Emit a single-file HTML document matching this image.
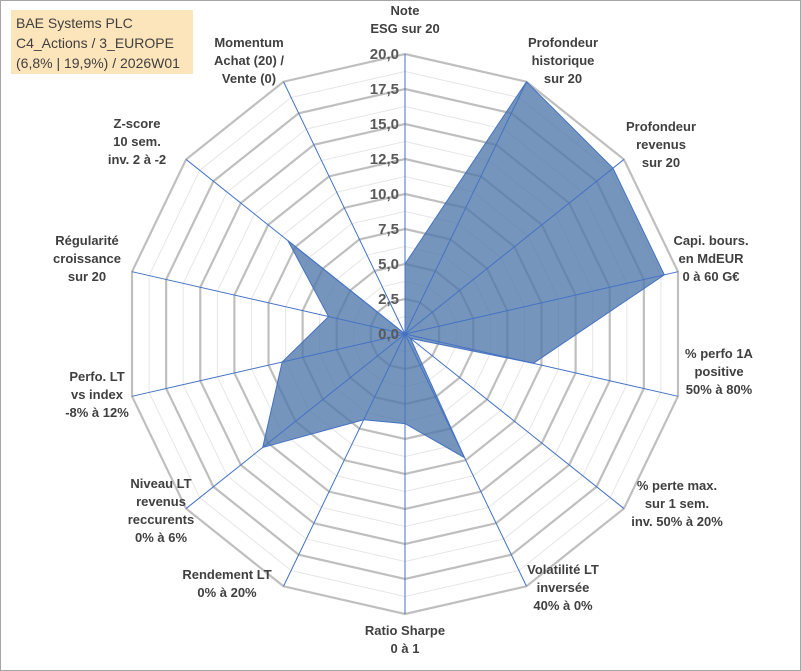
<!DOCTYPE html>
<html><head><meta charset="utf-8">
<style>
body{margin:0;background:#fff;font-family:"Liberation Sans",sans-serif;}
#wrap{position:relative;width:801px;height:671px;box-sizing:border-box;border:1px solid #a6a6a6;overflow:hidden;}
#info{position:absolute;left:10px;top:9px;width:182px;height:64px;background:#fce4bb;color:#404040;font-size:14px;line-height:20px;padding:3px 0 0 5px;box-sizing:border-box;}
svg{position:absolute;left:0;top:0;}
</style></head><body>
<div id="wrap">
<svg id="chart" width="801" height="671"></svg>
<div id="info">BAE Systems PLC<br>C4_Actions / 3_EUROPE<br>(6,8% | 19,9%) / 2026W01</div>
</div>
<script>
const categories=[["Note","ESG sur 20"],["Profondeur","historique","sur 20"],["Profondeur","revenus","sur 20"],["Capi. bours.","en MdEUR","0 à 60 G€"],["% perfo 1A","positive","50% à 80%"],["% perte max.","sur 1 sem.","inv. 50% à 20%"],["Volatilité LT","inversée","40% à 0%"],["Ratio Sharpe","0 à 1"],["Rendement LT","0% à 20%"],["Niveau LT","revenus","reccurents","0% à 6%"],["Perfo. LT","vs index","-8% à 12%"],["Régularité","croissance","sur 20"],["Z-score","10 sem.","inv. 2 à -2"],["Momentum","Achat (20) /","Vente (0)"]];
const values=[5.0,20,19,19,9.4,0.5,9.8,6.4,6.8,13,9,5.6,10.7,0];
const ticks=["0,0","2,5","5,0","7,5","10,0","12,5","15,0","17,5","20,0"];
const labelPos=[[404,14],[562,46],[660,130],[710,244],[718,357],[676,489],[562,573],[404,634],[226,578],[160,487],[96,380],[86,244],[136,127],[248,46]];
const svg=document.getElementById('chart');const NS='http://www.w3.org/2000/svg';
const cx=404,cy=333,R=280,maxV=20,N=categories.length;
function ang(i){return i*2*Math.PI/N;}
function pt(i,v){const r=v/maxV*R;return [cx+r*Math.sin(ang(i)),cy-r*Math.cos(ang(i))];}
function mk(t,a){const e=document.createElementNS(NS,t);for(const k in a)e.setAttribute(k,a[k]);svg.appendChild(e);return e;}
// minor rings
for(let k=1;k<=16;k++){const v=k*1.25;const p=[];for(let i=0;i<N;i++)p.push(pt(i,v).join(','));
const e=mk('polygon',{points:p.join(' '),fill:'none',stroke:k%2?'#e6e6e6':'#bfbfbf','stroke-width':k%2?1:2.2});

}
// polygon
const pp=values.map((v,i)=>pt(i,v).join(','));
const poly=mk('polygon',{points:pp.join(' '),fill:'rgba(79,119,170,0.78)',stroke:'#4472c4','stroke-width':1});


// axis lines
for(let i=0;i<N;i++){const p=pt(i,maxV);const l=mk('line',{x1:cx,y1:cy,x2:p[0],y2:p[1],stroke:'#4472c4','stroke-width':1});

}
// ticks
ticks.forEach((t,k)=>{const y=cy-k*2.5/maxV*R;const e=mk('text',{x:cx-6,y:y+5,'text-anchor':'end','font-size':15,'font-weight':'bold',fill:'#595959'});e.textContent=t;

});
// category labels
categories.forEach((lines,i)=>{const [x,y]=labelPos[i];const e=mk('text',{x:x,y:y,'text-anchor':'middle','font-size':13,'font-weight':'bold',fill:'#404040'});


lines.forEach((s,j)=>{const ts=document.createElementNS(NS,'tspan');ts.setAttribute('x',x);ts.setAttribute('dy',j?18:0);ts.textContent=s;e.appendChild(ts);});});
</script>
</body></html>
